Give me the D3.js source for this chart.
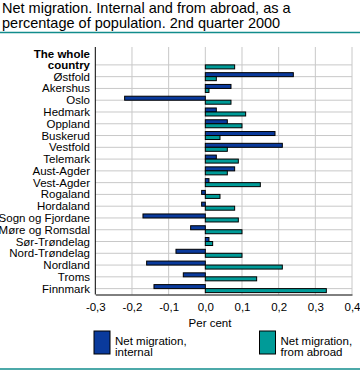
<title>Net migration</title>
<body style="margin:0"></body>
<style>
  text { font-family: "Liberation Sans", Arial, sans-serif; fill: #000; }
  .grid line { stroke: #c8c8c8; }
</style>
<script src="https://d3js.org/d3.v7.min.js"></script>
<script>
// counties, top to bottom
const counties = ['The whole country', 'Østfold', 'Akershus', 'Oslo', 'Hedmark', 'Oppland',
  'Buskerud', 'Vestfold', 'Telemark', 'Aust-Agder', 'Vest-Agder', 'Rogaland',
  'Hordaland', 'Sogn og Fjordane', 'Møre og Romsdal', 'Sør-Trøndelag',
  'Nord-Trøndelag', 'Nordland', 'Troms', 'Finnmark']
const internal = [0, 0.24, 0.07, -0.22, 0.03, 0.06, 0.19, 0.21, 0.03, 0.08, 0.01, -0.01,
  -0.01, -0.17, -0.04, 0.01, -0.08, -0.16, -0.06, -0.14]
const abroad = [0.08, 0.03, 0.01, 0.07, 0.11, 0.10, 0.04, 0.06, 0.09, 0.06, 0.15, 0.04,
  0.08, 0.09, 0.10, 0.02, 0.10, 0.21, 0.14, 0.33]
const ticks = [-0.3, -0.2, -0.1, 0, 0.1, 0.2, 0.3, 0.4]
const series = ['Net migration,\ninternal', 'Net migration,\nfrom abroad']
const colors = ['#0a3a9c', '#009b98']

const W = 360, H = 370
const svg = d3.select('body').append('svg').attr('width', W).attr('height', H)

// title + rules
const title = svg.append('text').attr('x', 2).attr('y', 13).style('font-size', '14.5px')
title.append('tspan').attr('x', 2).text('Net migration. Internal and from abroad, as a')
title.append('tspan').attr('x', 2).attr('dy', 15).text('percentage of population. 2nd quarter 2000')
svg.append('line').attr('x1', 0).attr('x2', W).attr('y1', 32.5).attr('y2', 32.5)
  .attr('stroke', '#118c8c').attr('stroke-width', 1.5)
svg.append('line').attr('x1', 0).attr('x2', W).attr('y1', 369).attr('y2', 369)
  .attr('stroke', '#118c8c').attr('stroke-width', 1.5)

const plotTop = 47, plotBottom = 294.5, left = 95.3, right = 352
const x = d3.scaleLinear().domain([-0.3, 0.4]).range([left, right])
const y = d3.scaleBand().domain(counties).range([59, plotBottom])
const bh = 4
const mid = c => y(c) + y.bandwidth() / 2

// grid
const g = svg.append('g').attr('class', 'grid')
g.selectAll('.v').data(ticks.slice(1)).join('line')
  .attr('x1', d => x(d)).attr('x2', d => x(d)).attr('y1', plotTop).attr('y2', plotBottom)
g.selectAll('.h').data(counties).join('line')
  .attr('x1', left).attr('x2', right)
  .attr('y1', mid).attr('y2', mid)

// bars
counties.forEach((c, i) => {
  [internal[i], abroad[i]].forEach((v, k) => {
    if (v === 0) return
    svg.append('rect')
      .attr('x', x(Math.min(0, v))).attr('width', Math.abs(x(v) - x(0)))
      .attr('y', k === 0 ? mid(c) - bh : mid(c)).attr('height', bh)
      .attr('fill', colors[k]).attr('stroke', '#000').attr('stroke-width', 1)
  })
})

// axes
const xAxis = svg.append('g').attr('transform', `translate(0,${plotBottom})`)
  .call(d3.axisBottom(x).tickValues(ticks).tickSize(0).tickPadding(8)
    .tickFormat(d => d3.format('.1f')(d).replace('.', ',').replace('−', '-')))
xAxis.select('.domain').attr('stroke', '#000')
xAxis.selectAll('text').style('font-size', '11.5px').style('font-family', '"Liberation Sans", Arial, sans-serif')

svg.append('line').attr('x1', left).attr('x2', left).attr('y1', plotTop).attr('y2', plotBottom).attr('stroke', '#000')

const yl = svg.append('g')
counties.forEach((c, i) => {
  const cy = mid(c)
  if (i === 0) {
    const t = yl.append('text').attr('text-anchor', 'end').style('font-size', '11.5px').style('font-weight', 'bold')
    t.append('tspan').attr('x', 90).attr('y', cy - 11 + 4).text('The whole')
    t.append('tspan').attr('x', 90).attr('y', cy + 4).text('country')
  } else {
    yl.append('text').attr('x', 90).attr('y', cy + 4).attr('text-anchor', 'end')
      .style('font-size', '11.5px').text(c)
  }
})

svg.append('text').attr('x', 210).attr('y', 327).attr('text-anchor', 'middle')
  .style('font-size', '11.5px').text('Per cent')

// legend
const lx = [94, 259.5]
series.forEach((s, k) => {
  svg.append('rect').attr('x', lx[k]).attr('y', 331).attr('width', 16).attr('height', 23)
    .attr('fill', colors[k]).attr('stroke', '#000')
  const t = svg.append('text').style('font-size', '11.5px')
  s.split('\n').forEach((l, j) => t.append('tspan').attr('x', lx[k] + 21).attr('y', 344.5 + j * 11).text(l))
})
</script>
